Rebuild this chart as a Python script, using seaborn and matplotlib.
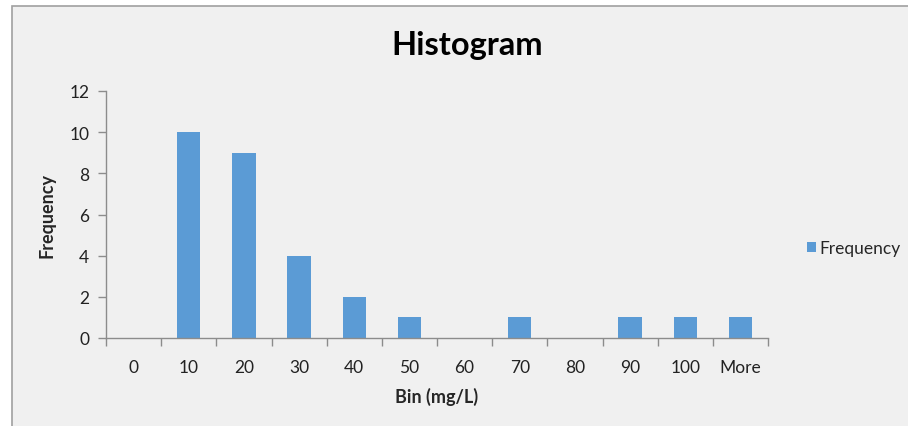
## Import Needed Libraries
from matplotlib import pyplot as plt
from matplotlib.patches import Rectangle
from matplotlib.ticker import FixedLocator
import pandas as pd
import seaborn as sns

## Data
bins = ['0', '10', '20', '30', '40', '50', '60', '70', '80', '90', '100', 'More']
frequency = [0, 10, 9, 4, 2, 1, 0, 1, 0, 1, 1, 1]

df = pd.DataFrame({'Bin': bins, 'Frequency': frequency})

## Style
sns.set_style('white')
plt.rcParams['font.family'] = ['Lato', 'DejaVu Sans']
bg = '#f0f0f0'
axis_grey = '#8c8c8c'

fig = plt.figure(figsize=(9.08, 4.27), dpi=100, facecolor='white')
# chart area panel (grey) with thin border top/left
fig.patches.append(Rectangle((12 / 908, -0.01), 1, 1.01 - 7 / 427, transform=fig.transFigure,
                             facecolor=bg, edgecolor='#a0a0a0', linewidth=1.2, zorder=-10))

ax = fig.add_axes([106 / 908, 1 - 339 / 427, (768 - 106) / 908, (339 - 92) / 427])
ax.set_zorder(5)
ax.patch.set_alpha(0)

sns.barplot(data=df, x='Bin', y='Frequency', color='#5b9bd5', width=0.42,
            saturation=1, linewidth=0, label='Frequency', ax=ax)

ax.set_xlim(-0.5, len(bins) - 0.5)
ax.set_ylim(0, 12)
ax.set_yticks(range(0, 13, 2))

# tick marks between categories, labels centred under them
ax.xaxis.set_minor_locator(FixedLocator([i - 0.5 for i in range(len(bins) + 1)]))
ax.tick_params(axis='x', which='major', bottom=True, length=0, pad=15, labelsize=12.5,
               colors='#222222')
ax.tick_params(axis='x', which='minor', bottom=True, length=6, width=1, color=axis_grey,
               direction='out')
ax.tick_params(axis='y', which='major', left=True, length=6, width=1, color=axis_grey,
               direction='out', labelsize=12.5, labelcolor='#222222', pad=6)

for side in ['top', 'right']:
    ax.spines[side].set_visible(False)
for side in ['left', 'bottom']:
    ax.spines[side].set_color(axis_grey)
    ax.spines[side].set_linewidth(1)

ax.set_xlabel('Bin (mg/L)', fontsize=13, fontweight='bold', labelpad=9)
ax.set_ylabel('Frequency', fontsize=13, fontweight='bold', labelpad=10)

fig.text(467 / 908, 1 - 46 / 427, 'Histogram', ha='center', va='center',
         fontsize=23.5, fontweight='bold', color='black')

ax.legend(loc='center left', bbox_to_anchor=(807 / 908, 1 - 249 / 427),
          bbox_transform=fig.transFigure, frameon=False, fontsize=12.5,
          handlelength=0.5, handleheight=0.5, handletextpad=0.2, borderpad=0,
          borderaxespad=0)

fig.savefig('out.png', dpi=100, facecolor='white')
